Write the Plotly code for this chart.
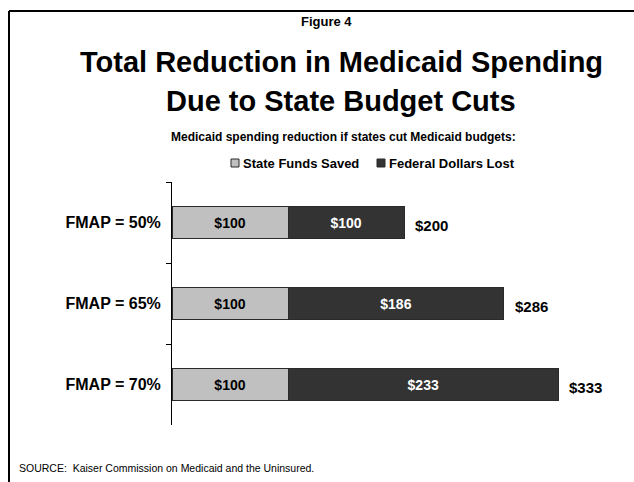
import plotly.graph_objects as go

categories = ["FMAP = 50%", "FMAP = 65%", "FMAP = 70%"]
state_funds = [100, 100, 100]
federal_lost = [100, 186, 233]
totals = [200, 286, 333]
series_names = ["State Funds Saved", "Federal Dollars Lost"]
series_colors = ["#C0C0C0", "#333333"]

W, H = 634, 482
L, R, T, B = 172, 613, 182, 425  # plot area in pixels
XMAX = 380

def px(x):
    return (x - L) / (R - L)

def py(y):
    return (B - y) / (B - T)

FONT = "Liberation Sans, Arial, Helvetica, sans-serif"
EDGE = "#2a2a2a"

fig = go.Figure()
for vals, name, color, tcolor in [(state_funds, series_names[0], series_colors[0], "#000000"),
                                  (federal_lost, series_names[1], series_colors[1], "#FFFFFF")]:
    fig.add_trace(go.Bar(
        y=categories, x=vals, orientation="h", name=name,
        marker=dict(color=color, line=dict(color=EDGE, width=1)),
        texttemplate="<b>$%{x}</b>", textposition="inside", insidetextanchor="middle",
        textfont=dict(family=FONT, size=14, color=tcolor),
        width=0.4, hoverinfo="skip", showlegend=False,
    ))

# totals at the end of each bar
for cat, tot in zip(categories, totals):
    fig.add_annotation(x=tot, y=cat, xref="x", yref="y", text=f"<b>${tot}</b>",
                       xanchor="left", yanchor="middle", xshift=9, yshift=-3,
                       showarrow=False, font=dict(family=FONT, size=15, color="#000000"))

fig.update_layout(
    width=W, height=H, barmode="stack",
    margin=dict(l=L, r=W - R, t=T, b=H - B, pad=0),
    paper_bgcolor="white", plot_bgcolor="white",
    font=dict(family=FONT, color="#000000"),
    showlegend=False,
    xaxis=dict(range=[0, XMAX], visible=False, fixedrange=True),
    yaxis=dict(
        type="category", categoryorder="array", categoryarray=categories,
        autorange="reversed", showline=True, linecolor="#000000", linewidth=1,
        ticks="outside", ticklen=5, tickcolor="#000000", tickson="boundaries",
        showgrid=False, zeroline=False,
        tickfont=dict(family=FONT, size=16, color="#000000"),
        tickprefix="<b>", ticksuffix="</b>", ticklabelstandoff=7,
    ),
)

texts = [
    ("<b>Figure 4</b>", 326, 21, 13),
    ("<b>Total Reduction in Medicaid Spending</b>", 341, 62, 29),
    ("<b>Due to State Budget Cuts</b>", 341, 101, 29),
    ("<b>Medicaid spending reduction if states cut Medicaid budgets:</b>", 343, 137, 12),
]
for t, x, y, s in texts:
    fig.add_annotation(text=t, x=px(x), y=py(y), xref="paper", yref="paper",
                       xanchor="center", yanchor="middle", showarrow=False,
                       font=dict(family=FONT, size=s, color="#000000"))
fig.add_annotation(text="SOURCE:  Kaiser Commission on Medicaid and the Uninsured.",
                   x=px(17), y=py(468), xref="paper", yref="paper",
                   xanchor="left", yanchor="middle", showarrow=False,
                   font=dict(family=FONT, size=10.5, color="#000000"))

# legend (small squares + bold labels)
for name, color, sx in zip(series_names, series_colors, [231, 377]):
    fig.add_shape(type="rect", xref="paper", yref="paper",
                  x0=px(sx), x1=px(sx + 8), y0=py(159), y1=py(167),
                  fillcolor=color, line=dict(color=EDGE, width=1))
    fig.add_annotation(text=f"<b>{name}</b>", x=px(sx + 10), y=py(163.5),
                       xref="paper", yref="paper", xanchor="left", yanchor="middle",
                       showarrow=False, font=dict(family=FONT, size=13, color="#000000"))

# slide frame (top and left edges)
fig.add_shape(type="line", xref="paper", yref="paper", x0=px(9), x1=px(640),
              y0=py(11), y1=py(11), line=dict(color="#000000", width=2))
fig.add_shape(type="line", xref="paper", yref="paper", x0=px(9), x1=px(9),
              y0=py(11), y1=py(490), line=dict(color="#000000", width=2))

fig.write_html("out.html")
